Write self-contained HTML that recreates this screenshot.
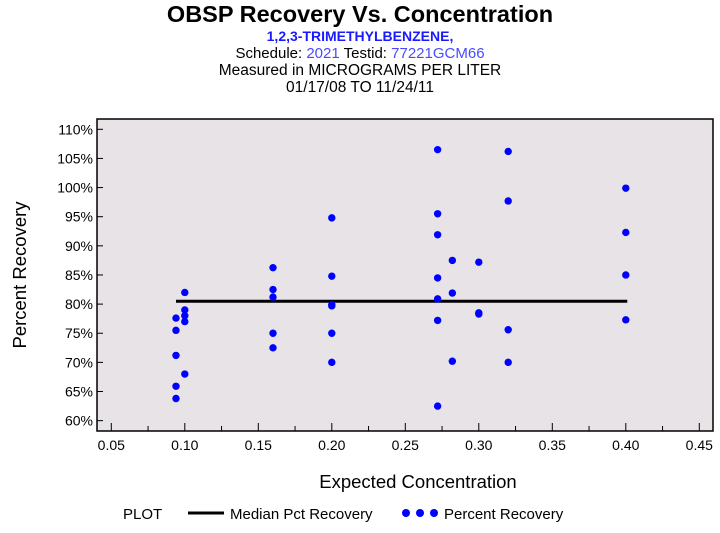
<!DOCTYPE html>
<html><head><meta charset="utf-8"><style>
body{margin:0;background:#fff;font-family:"Liberation Sans",sans-serif;}
svg text{font-family:"Liberation Sans",sans-serif;}
</style></head><body>
<svg width="720" height="528" xmlns="http://www.w3.org/2000/svg">
<text x="360" y="22" text-anchor="middle" font-size="23.5" font-weight="bold">OBSP Recovery Vs. Concentration</text>
<text x="360" y="41" text-anchor="middle" font-size="14" font-weight="bold" fill="#1a1aff">1,2,3-TRIMETHYLBENZENE,</text>
<text x="360" y="58" text-anchor="middle" font-size="15">Schedule: <tspan fill="#4a4aff">2021</tspan>  Testid: <tspan fill="#4a4aff">77221GCM66</tspan></text>
<text x="360" y="75" text-anchor="middle" font-size="15.5">Measured in  MICROGRAMS PER LITER</text>
<text x="360" y="92" text-anchor="middle" font-size="15.5">01/17/08 TO 11/24/11</text>
<rect x="97" y="119" width="616" height="312" fill="#e7e3e7" stroke="#000" stroke-width="1.5"/>
<g id="axes"></g>
<g id="marks"></g>
<text x="418" y="488" text-anchor="middle" font-size="18.5">Expected Concentration</text>
<text transform="translate(26,275) rotate(-90)" text-anchor="middle" font-size="18.5">Percent Recovery</text>
<g>
<text x="123" y="519" font-size="15">PLOT</text>
<line x1="188" y1="513" x2="224" y2="513" stroke="#000" stroke-width="3"/>
<text x="230" y="519" font-size="15">Median Pct Recovery</text>
<circle cx="406" cy="513" r="4" fill="#0000ff"/>
<circle cx="420" cy="513" r="4" fill="#0000ff"/>
<circle cx="434" cy="513" r="4" fill="#0000ff"/>
<text x="444" y="519" font-size="15">Percent Recovery</text>
</g>
</svg>
<script>
const xTicks=[0.05,0.10,0.15,0.20,0.25,0.30,0.35,0.40,0.45];
const yTicks=[60,65,70,75,80,85,90,95,100,105,110];
const xVals=[0.094,0.094,0.094,0.094,0.094,0.10,0.10,0.10,0.10,0.10,0.16,0.16,0.16,0.16,0.16,0.20,0.20,0.20,0.20,0.20,0.20,0.272,0.272,0.272,0.272,0.272,0.272,0.272,0.282,0.282,0.282,0.30,0.30,0.30,0.32,0.32,0.32,0.32,0.40,0.40,0.40,0.40];
const yVals=[77.6,75.5,71.2,65.9,63.8,82.0,79.0,78.0,77.0,68.0,86.25,82.5,81.2,75.0,72.5,94.8,84.8,79.9,79.7,75.0,70.0,106.5,95.5,91.9,84.5,80.9,77.2,62.5,87.5,81.9,70.2,87.2,78.5,78.3,106.2,97.7,75.6,70.0,99.9,92.3,85.0,77.3];
const median=80.5, medianX=[0.094,0.401];
const ns="http://www.w3.org/2000/svg";
const X=v=>111.3+(v-0.05)/0.05*73.5;
const Y=v=>129.3+(110-v)*5.827;
const ax=document.getElementById('axes'), mk=document.getElementById('marks');
function el(t,a,p){const e=document.createElementNS(ns,t);for(const k in a)e.setAttribute(k,a[k]);p.appendChild(e);return e;}
xTicks.forEach((t,i)=>{
  const l=el('line',{x1:X(t),x2:X(t),y1:431,y2:423,stroke:'#000'},ax);
  
  
  if(i<xTicks.length-1){const m=el('line',{x1:X(t+0.025),x2:X(t+0.025),y1:431,y2:426,stroke:'#000'},ax);
  
  }
  const tx=el('text',{x:X(t),y:450,'text-anchor':'middle','font-size':14},ax);tx.textContent=t.toFixed(2);
  
  
});
yTicks.forEach(t=>{
  const l=el('line',{x1:97,x2:103,y1:Y(t),y2:Y(t),stroke:'#000'},ax);
  
  
  const tx=el('text',{x:93,y:Y(t)+5,'text-anchor':'end','font-size':14},ax);tx.textContent=t+'%';
  
  
});
const ml=el('line',{x1:X(medianX[0]),x2:X(medianX[1]),y1:Y(median),y2:Y(median),stroke:'#000','stroke-width':3},mk);


xVals.forEach((x,i)=>{
  const c=el('circle',{cx:X(x),cy:Y(yVals[i]),r:3.7,fill:'#0000ff'},mk);
  
  
});
</script>
</body></html>
